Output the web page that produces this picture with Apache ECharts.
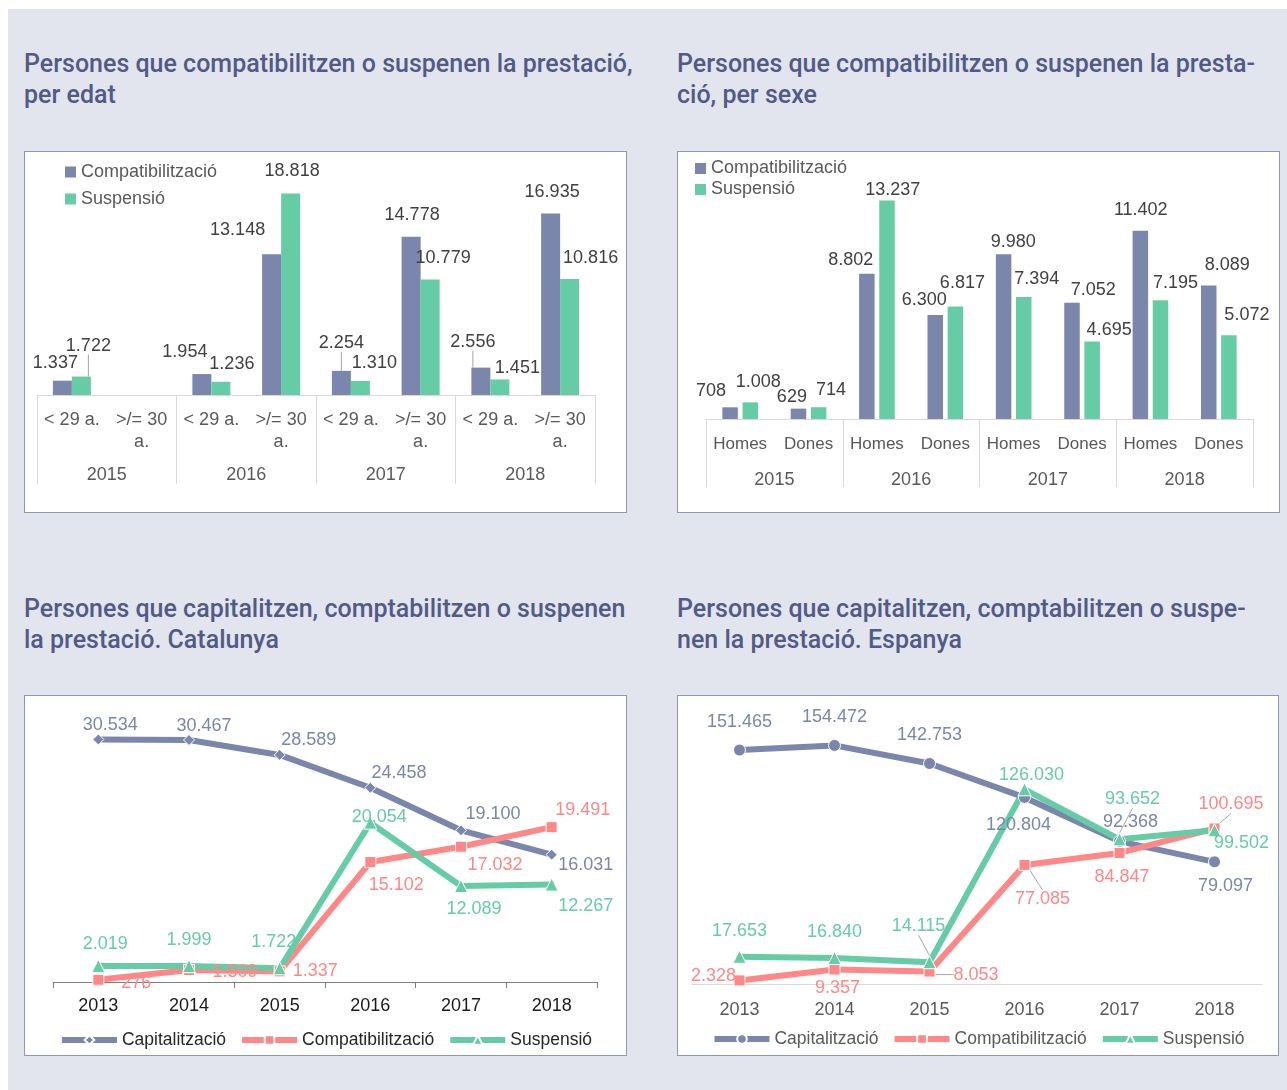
<!DOCTYPE html>
<html>
<head>
<meta charset="utf-8">
<script src="https://cdn.jsdelivr.net/npm/echarts@6/dist/echarts.min.js"></script>
<style>
  html, body { margin: 0; padding: 0; }
  body { width: 1287px; height: 1090px; position: relative; overflow: hidden; background: #ffffff; font-family: "Liberation Sans", Arial, sans-serif; }
  #panel { position: absolute; left: 8px; top: 9px; right: 0; bottom: 0; background: #e2e5ee; }
  .title { position: absolute; color: #525b85; font-family: Roboto, "Liberation Sans", sans-serif; font-weight: 500; font-size: 25px; line-height: 31px; white-space: nowrap; }
  .box { position: absolute; background: #ffffff; border: 1px solid #8e97b8; box-sizing: border-box; }
  .chart { width: 100%; height: 100%; }
</style>
</head>
<body>
<div id="panel"></div>

<div class="title" style="left:24px; top:48px;">Persones que compatibilitzen o suspenen la prestació,<br>per edat</div>
<div class="title" style="left:677px; top:48px;">Persones que compatibilitzen o suspenen la presta-<br>ció, per sexe</div>
<div class="title" style="left:24px; top:593px;">Persones que capitalitzen, comptabilitzen o suspenen<br>la prestació. Catalunya</div>
<div class="title" style="left:677px; top:593px;">Persones que capitalitzen, comptabilitzen o suspe-<br>nen la prestació. Espanya</div>

<div class="box" style="left:24px; top:151px; width:603px; height:362px;"><div id="c1" class="chart"></div></div>
<div class="box" style="left:677px; top:151px; width:603px; height:362px;"><div id="c2" class="chart"></div></div>
<div class="box" style="left:24px; top:695px; width:603px; height:361px;"><div id="c3" class="chart"></div></div>
<div class="box" style="left:677px; top:695px; width:602px; height:361px;"><div id="c4" class="chart"></div></div>

<script>
// ---- data ----
const YEARS_BARS = ['2015', '2016', '2017', '2018'];
const AGE_GROUPS = ['< 29 a.', '>/= 30\na.', '< 29 a.', '>/= 30\na.', '< 29 a.', '>/= 30\na.', '< 29 a.', '>/= 30\na.'];
const AGE_COMPAT = [1337, '-', 1954, 13148, 2254, 14778, 2556, 16935];
const AGE_SUSP   = [1722, '-', 1236, 18818, 1310, 10779, 1451, 10816];

const SEXES = ['Homes', 'Dones', 'Homes', 'Dones', 'Homes', 'Dones', 'Homes', 'Dones'];
const SEX_COMPAT = [708, 629, 8802, 6300, 9980, 7052, 11402, 8089];
const SEX_SUSP   = [1008, 714, 13237, 6817, 7394, 4695, 7195, 5072];

const YEARS_LINES = ['2013', '2014', '2015', '2016', '2017', '2018'];
const CAT_CAPITAL = [30534, 30467, 28589, 24458, 19100, 16031];
const CAT_COMPAT  = [276, 1509, 1337, 15102, 17032, 19491];
const CAT_SUSP    = [2019, 1999, 1722, 20054, 12089, 12267];

const ESP_CAPITAL = [151465, 154472, 142753, 120804, 92368, 79097];
const ESP_COMPAT  = [2328, 9357, 8053, 77085, 84847, 100695];
const ESP_SUSP    = [17653, 16840, 14115, 126030, 93652, 99502];

// ---- label placement (pixel nudges for the value labels) ----
const L1_COMPAT = [[-7,-4], null, [-17,-8], [-34,-10], [0,-14], [1,-8], [-8,-12], [1.5,-7.6]];
const L1_SUSP   = [[7,-17], null, [11,-4], [1.5,-8], [14,-4], [13,-7], [17.5,2.6], [21,-7]];
const L1_COMPAT_LEADER = [4, 6];
const L1_SUSP_LEADER = [0];

const L2_COMPAT = [[-19,-2], [-6.6,2], [-16,0], [-11,-1], [9.6,1.3], [21.3,1.3], [0.4,-7], [18.6,-6.6]];
const L2_SUSP   = [[8,-6], [12.4,-3], [5.7,3.3], [7,-9.6], [13,-4], [17,2.4], [15,-3.4], [18,-6.4]];

const L3_CAPITAL = [[12,-14], [15,-14], [29,-14.5], [28.6,-14.6], [32,-16], [34,10]];
const L3_COMPAT  = [[38,3], [46,2], [35.6,0], [26,23], [34,18], [31,-17]];
const L3_SUSP    = [[7,-22], [0,-26], [-6,-26.6], [9,-6], [13,23], [34,21]];

const L4_CAPITAL = [[0,-28], [0,-28], [0,-28], [-6,28], [11,-19], [11,24]];
const L4_COMPAT  = [[-26,-4], [3,18], [46.6,3], [18,34], [2.5,24], [16.5,-24]];
const L4_SUSP    = [[0,-26], [0,-26], [-11,-36], [7,-14], [13,-40], [27,13]];
const L4_COMPAT_LEADER = [2, 3, 5];
const L4_SUSP_LEADER = [2, 4];

// ---- styling ----
const C_BLUE = '#7a86ab';
const C_MINT = '#66cca6';
const C_SALMON = '#ff8787';
const FONT = '"Liberation Sans", Arial, sans-serif';
const LEADER = { lineStyle: { color: '#a6a6a6', width: 1 } };

function fmt(v) {
  return String(v).replace(/\B(?=(\d{3})+(?!\d))/g, '.');
}

function withLeaders(values, leaderIdx) {
  return values.map((v, i) => leaderIdx.indexOf(i) >= 0
    ? { value: v, labelLine: { show: true } }
    : v);
}

function nudge(offsets) {
  return function (p) {
    const o = offsets[p.dataIndex];
    return o ? { dx: o[0], dy: o[1] } : {};
  };
}

function barSeries(name, color, values, offsets, leaders, width, gap) {
  return {
    name: name,
    type: 'bar',
    xAxisIndex: 0,
    yAxisIndex: 0,
    barWidth: width,
    barGap: gap,
    itemStyle: { color: color },
    data: withLeaders(values, leaders || []),
    label: {
      show: true, position: 'top', distance: 5,
      fontFamily: FONT, fontSize: 18, lineHeight: 18, color: '#404040',
      formatter: p => fmt(p.value)
    },
    labelLine: Object.assign({ show: false }, LEADER),
    labelLayout: nudge(offsets)
  };
}

function groupedAxes(subCats, groups, subFont, yearMargin, tickLen) {
  return [
    {
      type: 'category', data: subCats, position: 'bottom',
      axisLine: { show: true, lineStyle: { color: '#d9d9d9', width: 1 } },
      axisTick: { show: false },
      axisLabel: { interval: 0, margin: 14, fontFamily: FONT, fontSize: subFont, lineHeight: 22, color: '#595959' }
    },
    {
      type: 'category', data: groups, position: 'bottom',
      axisLine: { show: false },
      axisTick: { show: true, length: tickLen, interval: 0, lineStyle: { color: '#d9d9d9', width: 1 } },
      axisLabel: { interval: 0, margin: yearMargin, fontFamily: FONT, fontSize: 18, color: '#595959' }
    }
  ];
}

const hiddenY = (max) => ({
  type: 'value', min: 0, max: max,
  show: false, splitLine: { show: false }
});

function barLegend(left, top, gap, lineHeight) {
  return {
    orient: 'vertical', left: left, top: top, padding: 0, itemGap: gap,
    itemWidth: 11, itemHeight: 11, icon: 'rect',
    textStyle: { fontFamily: FONT, fontSize: 18, lineHeight: lineHeight, color: '#595959' },
    data: ['Compatibilització', 'Suspensió']
  };
}

// ---- chart 1: by age ----
const c1 = echarts.init(document.getElementById('c1'), null, { renderer: 'canvas' });
c1.setOption({
  animation: false,
  legend: barLegend(40, 10, 7, 20),
  grid: { left: 12, right: 31, top: 18, bottom: 117 },
  xAxis: groupedAxes(AGE_GROUPS, YEARS_BARS, 18, 71, 89),
  yAxis: hiddenY(21000),
  series: [
    barSeries('Compatibilització', C_BLUE, AGE_COMPAT, L1_COMPAT, L1_COMPAT_LEADER, 19, '0%'),
    barSeries('Suspensió', C_MINT, AGE_SUSP, L1_SUSP, L1_SUSP_LEADER, 19, '0%')
  ]
});

// ---- chart 2: by sex ----
const c2 = echarts.init(document.getElementById('c2'), null, { renderer: 'canvas' });
c2.setOption({
  animation: false,
  legend: barLegend(17, 7, 2, 19),
  grid: { left: 28, right: 26, top: 36, bottom: 93 },
  xAxis: groupedAxes(SEXES, YEARS_BARS, 17, 52, 68),
  yAxis: hiddenY(14000),
  series: [
    barSeries('Compatibilització', C_BLUE, SEX_COMPAT, L2_COMPAT, [], 15.5, '30%'),
    barSeries('Suspensió', C_MINT, SEX_SUSP, L2_SUSP, [], 15.5, '30%')
  ]
});

// ---- line charts ----
function lineSeries(name, color, symbol, size, values, offsets, leaders) {
  return {
    name: name,
    type: 'line',
    data: withLeaders(values, leaders || []),
    symbol: symbol,
    symbolSize: size,
    showAllSymbol: true,
    lineStyle: { color: color, width: 6 },
    itemStyle: { color: color, borderColor: '#ffffff', borderWidth: 1 },
    label: {
      show: true, position: 'inside',
      fontFamily: FONT, fontSize: 18, lineHeight: 18, color: color,
      formatter: p => fmt(p.value)
    },
    labelLine: Object.assign({ show: false }, LEADER),
    labelLayout: nudge(offsets)
  };
}

function lineLegend(top, textColor) {
  return {
    left: 'center', top: top, padding: 0, itemGap: 13,
    itemWidth: 55, itemHeight: 12,
    lineStyle: { width: 6 },
    textStyle: { fontFamily: FONT, fontSize: 17.5, lineHeight: 20, color: textColor },
    data: ['Capitalització', 'Compatibilització', 'Suspensió']
  };
}

// ---- chart 3: Catalunya ----
const c3 = echarts.init(document.getElementById('c3'), null, { renderer: 'canvas' });
c3.setOption({
  animation: false,
  legend: lineLegend(334, '#262626'),
  grid: { left: 28, right: 29, top: 8, bottom: 73 },
  xAxis: {
    type: 'category', data: YEARS_LINES, boundaryGap: true,
    axisLine: { lineStyle: { color: '#7f7f7f', width: 1 } },
    axisTick: { show: true, length: 6, lineStyle: { color: '#7f7f7f' } },
    axisLabel: { margin: 15, fontFamily: FONT, fontSize: 18, color: '#1a1a1a' }
  },
  yAxis: hiddenY(35000),
  series: [
    lineSeries('Capitalització', C_BLUE, 'diamond', 11, CAT_CAPITAL, L3_CAPITAL),
    lineSeries('Compatibilització', C_SALMON, 'rect', 11, CAT_COMPAT, L3_COMPAT),
    lineSeries('Suspensió', C_MINT, 'triangle', 13, CAT_SUSP, L3_SUSP)
  ]
});

// ---- chart 4: Espanya ----
const c4 = echarts.init(document.getElementById('c4'), null, { renderer: 'canvas' });
c4.setOption({
  animation: false,
  legend: lineLegend(333, '#595959'),
  grid: { left: 14, right: 16, top: 10, bottom: 71 },
  xAxis: {
    type: 'category', data: YEARS_LINES, boundaryGap: true,
    axisLine: { lineStyle: { color: '#d9d9d9', width: 1 } },
    axisTick: { show: false },
    axisLabel: { margin: 17, fontFamily: FONT, fontSize: 18, color: '#595959' }
  },
  yAxis: hiddenY(180000),
  series: [
    lineSeries('Capitalització', C_BLUE, 'circle', 12, ESP_CAPITAL, L4_CAPITAL),
    lineSeries('Compatibilització', C_SALMON, 'rect', 11, ESP_COMPAT, L4_COMPAT, L4_COMPAT_LEADER),
    lineSeries('Suspensió', C_MINT, 'triangle', 13, ESP_SUSP, L4_SUSP, L4_SUSP_LEADER)
  ]
});
</script>
</body>
</html>
